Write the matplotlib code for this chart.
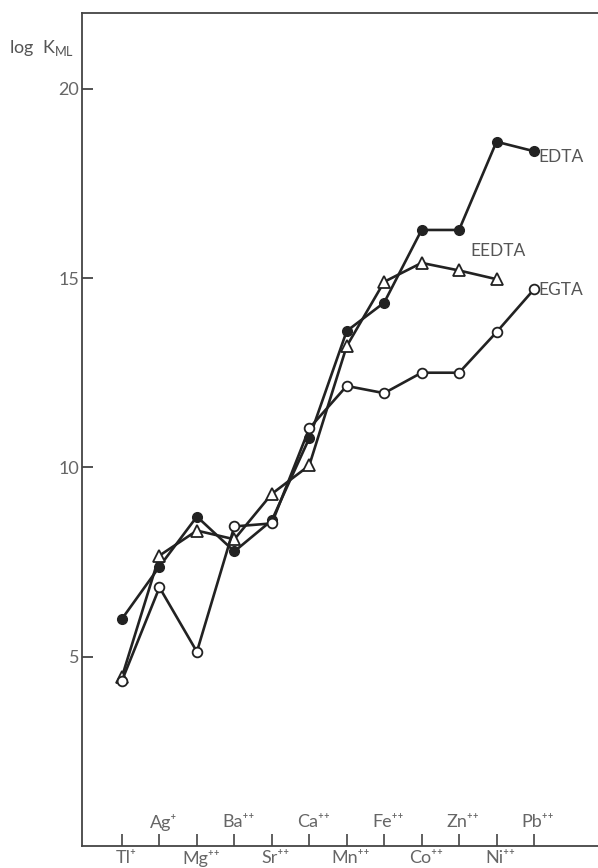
import matplotlib
matplotlib.use("Agg")
import matplotlib.pyplot as plt

plt.rcParams['font.family'] = ['Lato', 'DejaVu Sans']

ions = ["Tl⁺", "Ag⁺", "Mg⁺⁺", "Ba⁺⁺", "Sr⁺⁺", "Ca⁺⁺",
        "Mn⁺⁺", "Fe⁺⁺", "Co⁺⁺", "Zn⁺⁺", "Ni⁺⁺", "Pb⁺⁺"]
edta = [6.0, 7.38, 8.7, 7.78, 8.6, 10.77, 13.6, 14.35, 16.27, 16.27, 18.6, 18.35]
eedta = [4.47, 7.67, 8.33, 8.1, 9.3, 10.05, 13.2, 14.9, 15.4, 15.2, 14.97]
egta = [4.37, 6.83, 5.13, 8.44, 8.52, 11.03, 12.15, 11.96, 12.5, 12.5, 13.57, 14.7]
y_ticks = [5, 10, 15, 20]

W, H = 598, 868
fig = plt.figure(figsize=(W / 100, H / 100), dpi=100)
ax = fig.add_axes([82 / W, 1 - 846 / H, 1 - 82 / W, (846 - 13) / H])

x_all = list(range(1, len(ions) + 1))
line_kw = dict(color="#222222", lw=1.9, zorder=3)

ax.plot(x_all[:len(edta)], edta, marker="o", ms=7, mfc="#222222",
        mec="#222222", **line_kw)
ax.plot(x_all[:len(eedta)], eedta, marker="^", ms=9, mfc="white",
        mec="#222222", mew=1.3, **line_kw)
ax.plot(x_all[:len(egta)], egta, marker="o", ms=7, mfc="white",
        mec="#222222", mew=1.3, **line_kw)

ax.set_xlim(1 - 40 / 37.45, 1 + (598 - 122) / 37.45)
ax.set_ylim(0, 22)

ax.spines["right"].set_visible(False)
for s in ("left", "top", "bottom"):
    ax.spines[s].set_linewidth(1.3)
    ax.spines[s].set_color("#444444")

ax.set_yticks(y_ticks)
ax.set_yticklabels([str(v) for v in y_ticks])
ax.tick_params(axis="y", direction="in", length=8, width=1.3, color="#444444",
               labelsize=13, labelcolor="#666666", pad=2)

ax.set_xticks(x_all)
ax.set_xticklabels([])
ax.tick_params(axis="x", direction="in", length=9, width=1.2, color="#444444")

# alternate the ion labels between a row above and a row below the axis
for i, (xv, name) in enumerate(zip(x_all, ions)):
    yfrac = 0.0288 if i % 2 else -0.0146
    ax.annotate(name, xy=(xv, yfrac), xycoords=ax.get_xaxis_transform(),
                xytext=(4, 0), textcoords="offset pixels",
                ha="center", va="center", fontsize=13, color="#666666",
                annotation_clip=False)

# series names next to their curves
ax.annotate("EDTA", xy=(x_all[len(edta) - 1], edta[-1]), xytext=(4, -6),
            textcoords="offset pixels", ha="left", va="center",
            fontsize=12.5, color="#555555")
ax.annotate("EEDTA", xy=(x_all[len(eedta) - 1], eedta[-1]), xytext=(-26, 28),
            textcoords="offset pixels", ha="left", va="center",
            fontsize=12.5, color="#555555")
ax.annotate("EGTA", xy=(x_all[len(egta) - 1], egta[-1]), xytext=(4, -1),
            textcoords="offset pixels", ha="left", va="center",
            fontsize=12.5, color="#555555")

fig.text(9 / W, 1 - 48 / H, r"log  K$_{\mathregular{ML}}$", ha="left",
         va="center", fontsize=13, color="#555555")

fig.savefig("out.png", dpi=100, facecolor="white")
